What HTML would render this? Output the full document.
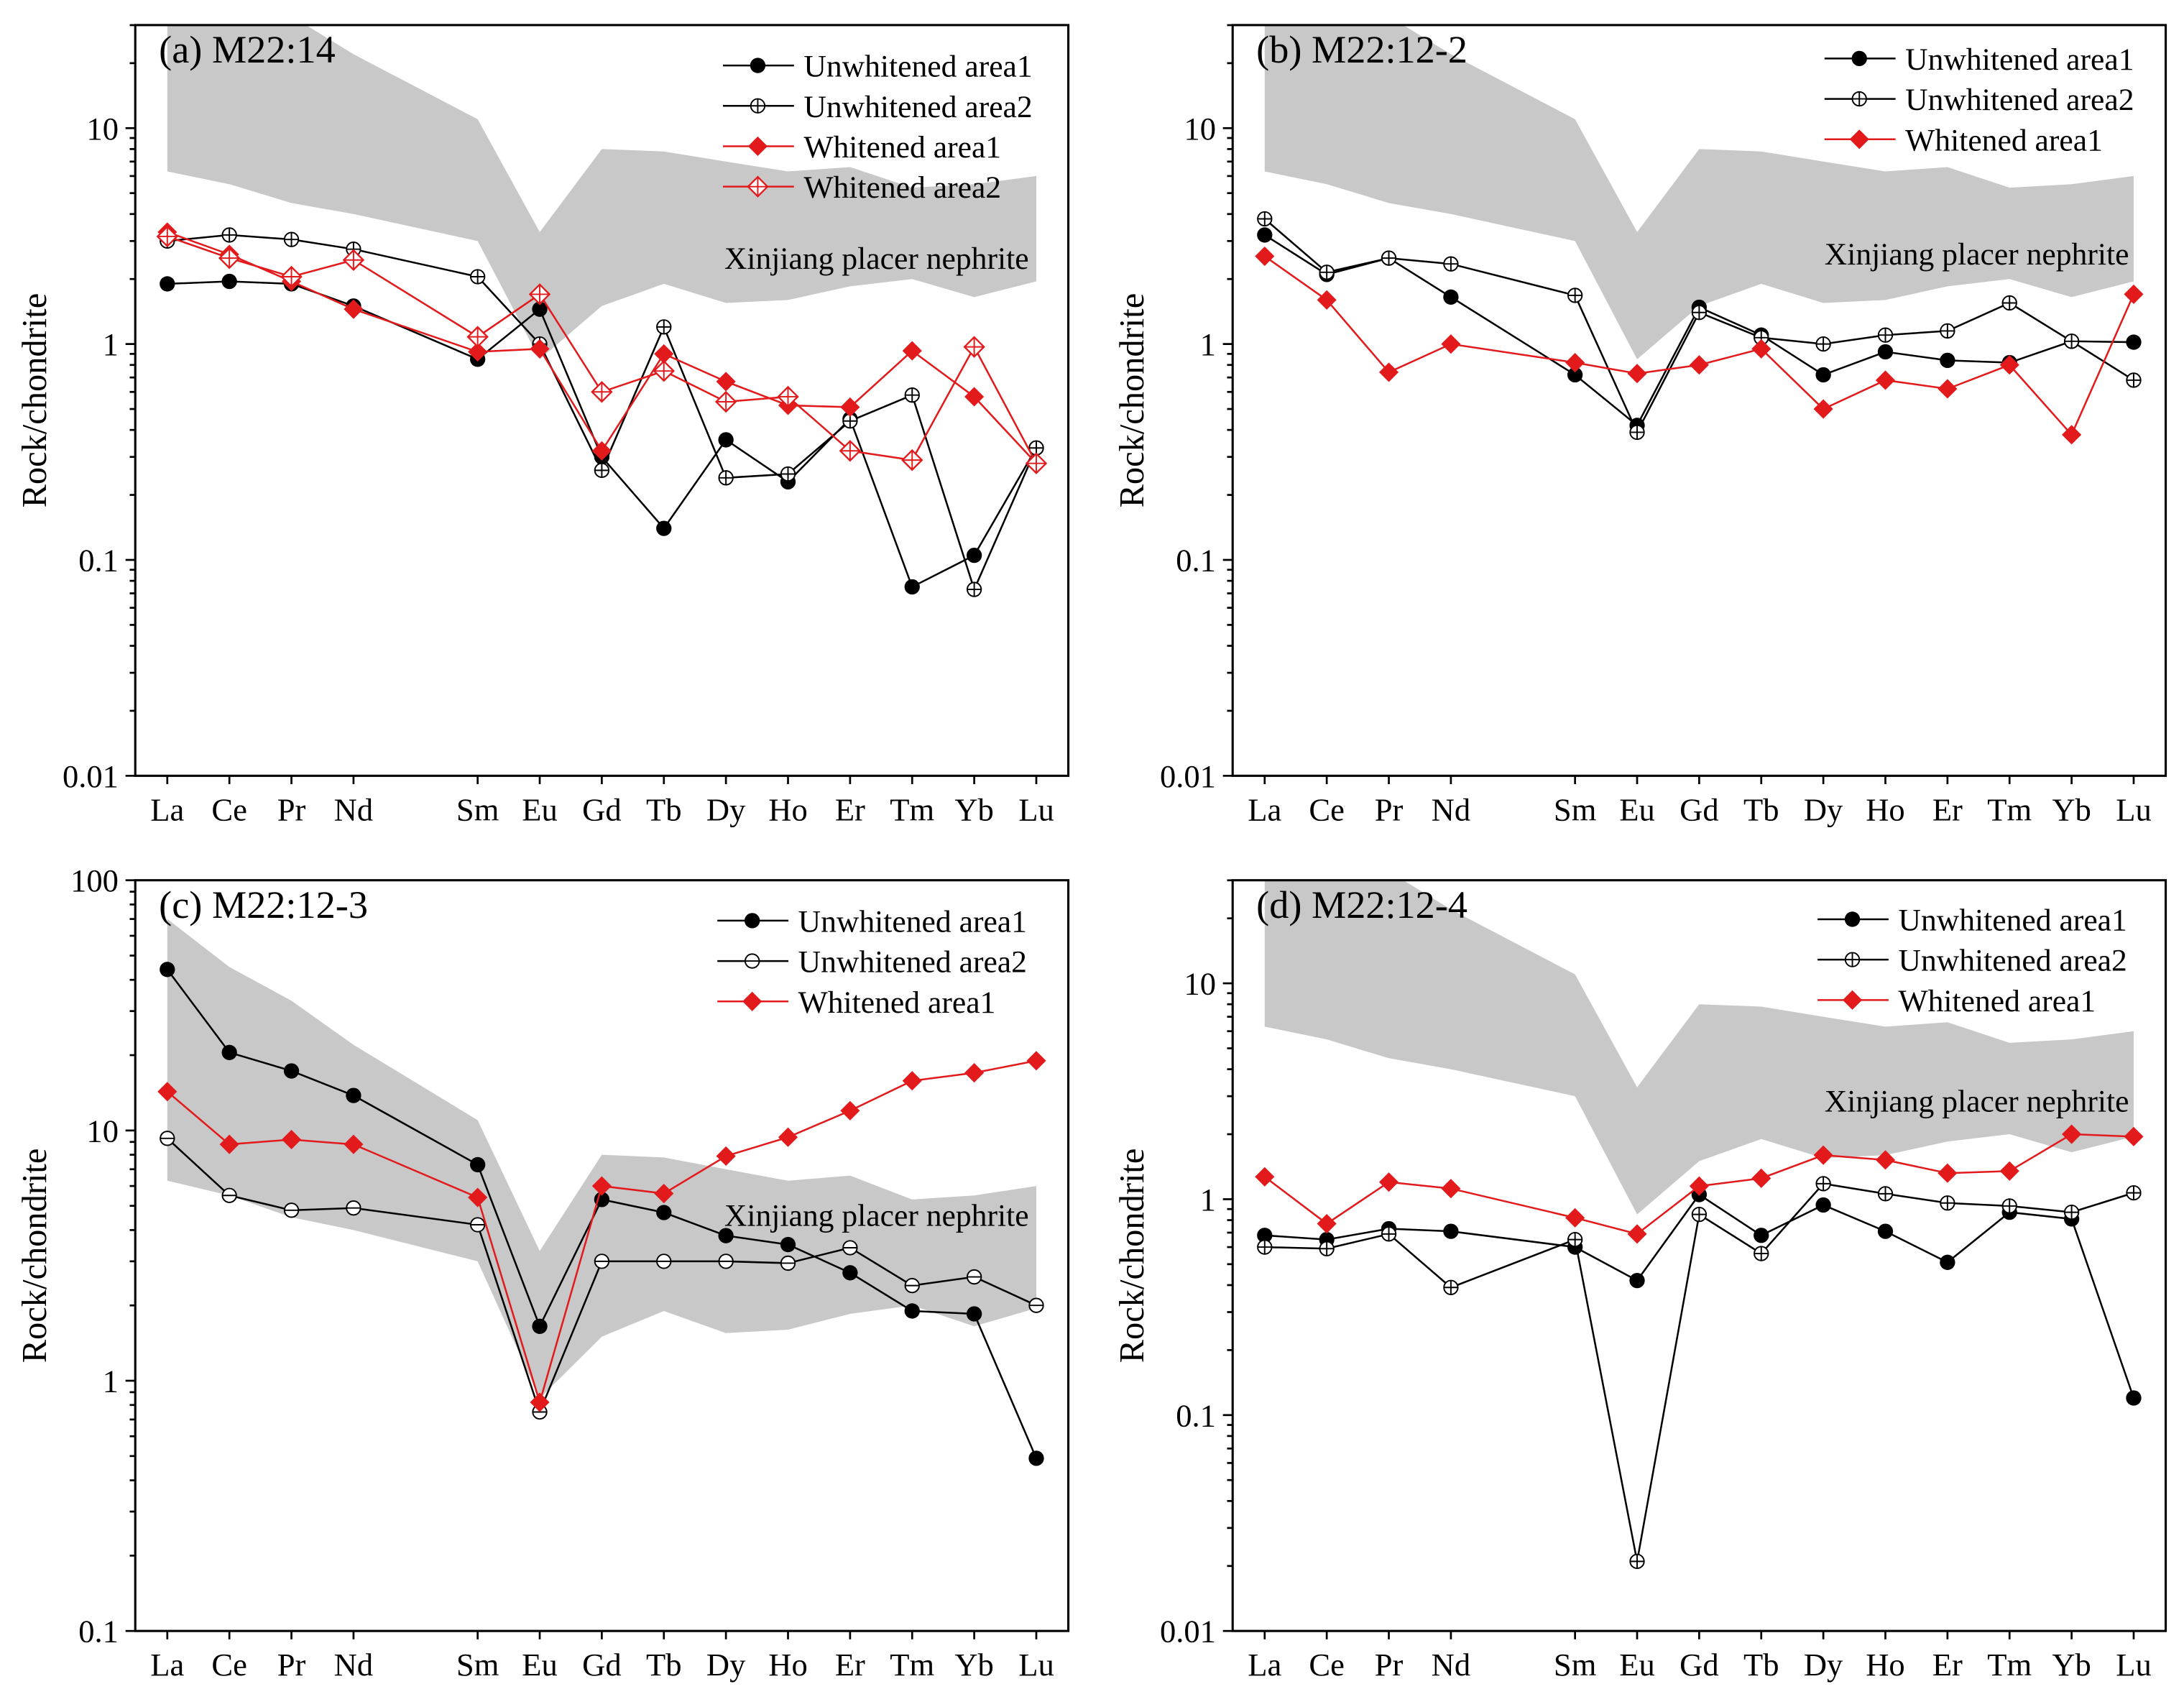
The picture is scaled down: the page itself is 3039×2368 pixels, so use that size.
<!DOCTYPE html>
<html><head><meta charset="utf-8"><style>
html,body{margin:0;padding:0;background:#fff}
svg{display:block}
text{font-family:"Liberation Serif",serif;fill:#000}
</style></head><body>
<svg id="fig" width="3039" height="2368" viewBox="0 0 1568 1222" xmlns="http://www.w3.org/2000/svg"></svg>
<script>
const elements=["La","Ce","Pr","Nd","Sm","Eu","Gd","Tb","Dy","Ho","Er","Tm","Yb","Lu"];
const elemIndex=[0,1,2,3,5,6,7,8,9,10,11,12,13,14];
const bandUpper=[70,45,33,22,11,3.3,8,7.8,7,6.3,6.6,5.3,5.5,6];
const bandLower=[6.3,5.5,4.5,4,3,0.85,1.5,1.9,1.55,1.6,1.85,2,1.65,1.95];
const aU1=[1.9,1.95,1.9,1.5,0.85,1.45,0.3,0.14,0.36,0.23,0.45,0.075,0.105,0.33];
const aU2=[3.0,3.2,3.05,2.75,2.05,1.0,0.26,1.2,0.24,0.25,0.44,0.58,0.073,0.33];
const aW1=[3.3,2.6,1.95,1.45,0.92,0.95,0.32,0.9,0.67,0.52,0.51,0.93,0.57,0.28];
const aW2=[3.15,2.5,2.05,2.45,1.08,1.7,0.6,0.75,0.54,0.57,0.32,0.29,0.97,0.28];
const bU1=[3.2,2.1,2.5,1.65,0.72,0.42,1.48,1.1,0.72,0.92,0.84,0.82,1.03,1.02];
const bU2=[3.8,2.15,2.5,2.35,1.68,0.39,1.4,1.07,1.0,1.1,1.15,1.55,1.03,0.68];
const bW1=[2.55,1.6,0.74,1.0,0.82,0.73,0.8,0.95,0.5,0.68,0.62,0.8,0.38,1.7];
const cU1=[44,20.5,17.3,13.8,7.3,1.65,5.3,4.7,3.8,3.5,2.7,1.9,1.85,0.49];
const cU2=[9.3,5.5,4.8,4.9,4.2,0.75,3.0,3.0,3.0,2.95,3.4,2.4,2.6,2.0];
const cW1=[14.3,8.8,9.2,8.8,5.4,0.82,6.0,5.6,7.9,9.4,12,15.8,17,19];
const dU1=[0.68,0.65,0.73,0.71,0.6,0.42,1.05,0.68,0.94,0.71,0.51,0.87,0.81,0.12];
const dU2=[0.6,0.59,0.69,0.39,0.65,0.021,0.85,0.56,1.18,1.06,0.96,0.93,0.87,1.07];
const dW1=[1.27,0.77,1.2,1.12,0.82,0.69,1.15,1.25,1.6,1.52,1.32,1.35,2.0,1.95];
const yTicksA=["0.01","0.1","1","10"];
const yTicksC=["0.1","1","10","100"];

const NS="http://www.w3.org/2000/svg";
const svg=document.getElementById('fig');
function mk(tag,attrs,parent){const e=document.createElementNS(NS,tag);for(const k in attrs)e.setAttribute(k,attrs[k]);(parent||svg).appendChild(e);return e;}

const panels=[
 {id:"a",title:"(a) M22:14",x0:97,x1:767,y0:18,y1:557,ymin:0.01,ymax:10**(1+74/155),ticks:yTicksA,
  series:[["Unwhitened area1",aU1,"u1"],["Unwhitened area2",aU2,"u2"],["Whitened area1",aW1,"w1"],["Whitened area2",aW2,"w2"]],
  leg:[519,47],band:[520,185]},
 {id:"b",title:"(b) M22:12-2",x0:885,x1:1555,y0:18,y1:557,ymin:0.01,ymax:10**(1+74/155),ticks:yTicksA,
  series:[["Unwhitened area1",bU1,"u1"],["Unwhitened area2",bU2,"u2"],["Whitened area1",bW1,"w1"]],
  leg:[1310,42],band:[1310,182]},
 {id:"c",title:"(c) M22:12-3",x0:97,x1:767,y0:632,y1:1171,ymin:0.1,ymax:100,ticks:yTicksC,
  series:[["Unwhitened area1",cU1,"u1"],["Unwhitened area2",cU2,"u2h"],["Whitened area1",cW1,"w1"]],
  leg:[515,661],band:[520,872]},
 {id:"d",title:"(d) M22:12-4",x0:885,x1:1555,y0:632,y1:1171,ymin:0.01,ymax:10**(1+74/155),ticks:yTicksA,
  series:[["Unwhitened area1",dU1,"u1"],["Unwhitened area2",dU2,"u2"],["Whitened area1",dW1,"w1"]],
  leg:[1305,660],band:[1310,790]}
];

function marker(g,type,x,y){
  let m;
  if(type==="u1"){m=mk('circle',{cx:x,cy:y,r:5.5,fill:'#000'},g);}
  else if(type==="u2"||type==="u2h"){
    m=mk('g',{},g);
    mk('circle',{cx:x,cy:y,r:5,fill:'#fff',stroke:'#000','stroke-width':1},m);
    mk('line',{x1:x-5,y1:y,x2:x+5,y2:y,stroke:'#000','stroke-width':1},m);
    if(type==="u2")mk('line',{x1:x,y1:y-5,x2:x,y2:y+5,stroke:'#000','stroke-width':1},m);
  } else if(type==="w1"){m=mk('polygon',{points:`${x},${y-7} ${x+7},${y} ${x},${y+7} ${x-7},${y}`,fill:'#e31a1c'},g);}
  else {m=mk('g',{},g);
    mk('polygon',{points:`${x},${y-7} ${x+7},${y} ${x},${y+7} ${x-7},${y}`,fill:'#fff',stroke:'#e31a1c','stroke-width':1.2},m);
    mk('line',{x1:x-7,y1:y,x2:x+7,y2:y,stroke:'#e31a1c','stroke-width':1},m);
    mk('line',{x1:x,y1:y-7,x2:x,y2:y+7,stroke:'#e31a1c','stroke-width':1},m);}
  return m;
}

panels.forEach(p=>{
  const g=mk('g',{});
  
  
  const lmin=Math.log10(p.ymin),lmax=Math.log10(p.ymax);
  const Y=v=>p.y1-(Math.log10(v)-lmin)/(lmax-lmin)*(p.y1-p.y0);
  const step=(p.x1-p.x0-46)/14;
  const X=i=>p.x0+23+elemIndex[i]*step;
  const clip=mk('clipPath',{id:'clip'+p.id},g);
  mk('rect',{x:p.x0,y:p.y0,width:p.x1-p.x0,height:p.y1-p.y0},clip);
  let pts=elements.map((e,i)=>`${X(i)},${Y(bandUpper[i])}`);
  for(let i=elements.length-1;i>=0;i--)pts.push(`${X(i)},${Y(bandLower[i])}`);
  const band=mk('polygon',{points:pts.join(' '),fill:'#c8c8c8','clip-path':`url(#clip${p.id})`},g);
  
  
  const bl=mk('text',{x:p.band[0],y:p.band[1]+8,'font-size':22.5},g);bl.textContent="Xinjiang placer nephrite";
  
  
  const fr=mk('rect',{x:p.x0,y:p.y0,width:p.x1-p.x0,height:p.y1-p.y0,fill:'none',stroke:'#000','stroke-width':1.6},g);
  
  
  for(let d=Math.round(lmin);d<=Math.floor(lmax);d++){
    for(let k=1;k<10;k++){
      const v=k*10**d; if(v<p.ymin*0.999||v>p.ymax)continue;
      const y=Y(v);
      mk('line',{x1:p.x0,y1:y,x2:p.x0-(k===1?7:4),y2:y,stroke:'#000','stroke-width':1.4},g);
    }
  }
  p.ticks.forEach((t,i)=>{
    const y=Y(parseFloat(t));
    const tx=mk('text',{x:p.x0-12,y:y+8,'font-size':23,'text-anchor':'end'},g);tx.textContent=t;
    
    
  });
  elements.forEach((e,i)=>{
    mk('line',{x1:X(i),y1:p.y1,x2:X(i),y2:p.y1+6,stroke:'#000','stroke-width':1.4},g);
    const tx=mk('text',{x:X(i),y:p.y1+32,'font-size':23,'text-anchor':'middle'},g);tx.textContent=e;
    
    
  });
  const yt=mk('text',{x:0,y:0,'font-size':25,'text-anchor':'middle',transform:`translate(${p.x0-64},${(p.y0+p.y1)/2}) rotate(-90)`},g);
  yt.textContent="Rock/chondrite";
  
  
  const tt=mk('text',{x:p.x0+17,y:p.y0+27,'font-size':28},g);tt.textContent=p.title;
  
  
  p.series.forEach((s,si)=>{
    const sg=mk('g',{},g);
    
    
    const col=s[2][0]==='w'?'#e31a1c':'#000';
    mk('polyline',{points:s[1].map((v,i)=>`${X(i)},${Y(v)}`).join(' '),fill:'none',stroke:col,'stroke-width':1.3},sg);
    s[1].forEach((v,i)=>{const m=marker(sg,s[2],X(i),Y(v));
      
      });
    const ly=p.leg[1]+si*29;
    const lg=mk('g',{},g);
    
    
    mk('line',{x1:p.leg[0],y1:ly,x2:p.leg[0]+51,y2:ly,stroke:col,'stroke-width':1.3},lg);
    marker(lg,s[2],p.leg[0]+25,ly);
    const lt=mk('text',{x:p.leg[0]+58,y:ly+8,'font-size':22.5},lg);lt.textContent=s[0];
  });
});
</script>
</body></html>
